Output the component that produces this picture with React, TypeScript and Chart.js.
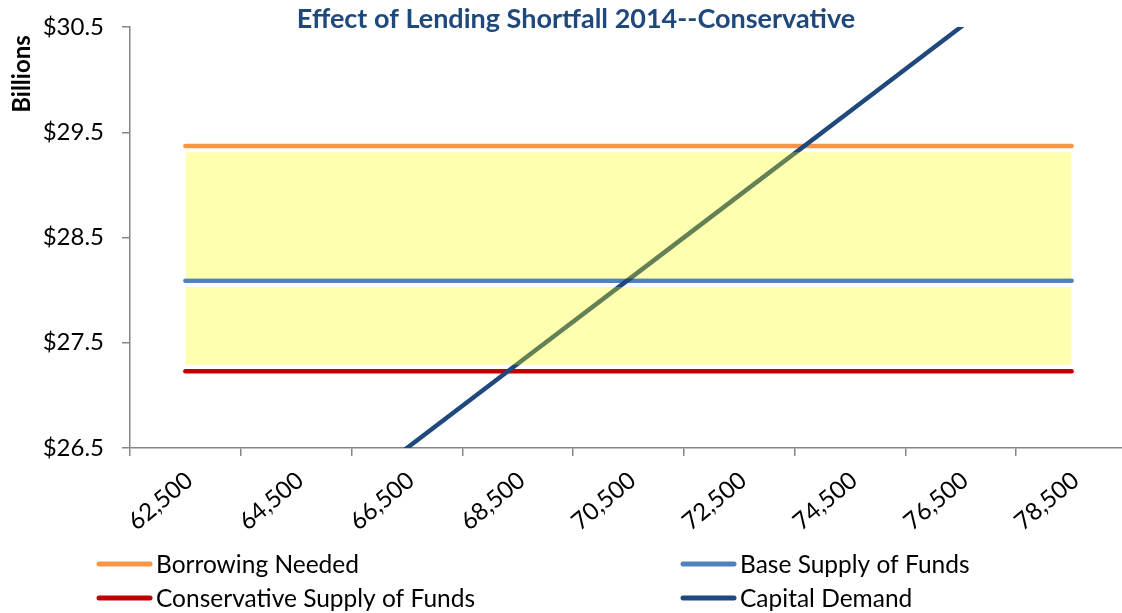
import React, { useEffect, useRef } from "react";
import { Chart, registerables } from "chart.js";

Chart.register(...registerables);

const TITLE = "Effect of Lending Shortfall 2014--Conservative";
const Y_TITLE = "Billions";

const categories = ["62,500", "64,500", "66,500", "68,500", "70,500", "72,500", "74,500", "76,500", "78,500"];
const borrowingNeeded = [29.37, 29.37, 29.37, 29.37, 29.37, 29.37, 29.37, 29.37, 29.37];
const baseSupply = [28.09, 28.09, 28.09, 28.09, 28.09, 28.09, 28.09, 28.09, 28.09];
const conservativeSupply = [27.23, 27.23, 27.23, 27.23, 27.23, 27.23, 27.23, 27.23, 27.23];
const capitalDemand = [24.9, 25.7, 26.5, 27.3, 28.1, 28.9, 29.7, 30.5, 31.3];
const bandUpperTop = [29.31, 29.31, 29.31, 29.31, 29.31, 29.31, 29.31, 29.31, 29.31];
const bandUpperBottom = [28.11, 28.11, 28.11, 28.11, 28.11, 28.11, 28.11, 28.11, 28.11];
const bandLowerTop = [28.03, 28.03, 28.03, 28.03, 28.03, 28.03, 28.03, 28.03, 28.03];
const bandLowerBottom = [27.29, 27.29, 27.29, 27.29, 27.29, 27.29, 27.29, 27.29, 27.29];
const Y_MIN = 26.5;
const Y_MAX = 30.5;
const Y_STEP = 1;

const FONT = "Lato, 'Open Sans', sans-serif";
const AXIS_GRAY = "#868686";
const BAND_FILL = "rgba(255,255,0,0.31)";

const legendItems = [
  { label: "Borrowing Needed", color: "#F79646", x: 97, y: 564 },
  { label: "Base Supply of Funds", color: "#4F81BD", x: 681, y: 564 },
  { label: "Conservative Supply of Funds", color: "#C00000", x: 97, y: 598 },
  { label: "Capital Demand", color: "#1F497D", x: 681, y: 598 },
];

const overlayPlugin = {
  id: "overlayText",
  afterDraw(chart: any) {
    const ctx = chart.ctx;
    ctx.save();
    ctx.fillStyle = "#1F497D";
    ctx.font = `bold 27px ${FONT}`;
    ctx.textAlign = "center";
    ctx.textBaseline = "middle";
    ctx.fillText(TITLE, 576, 19);

    ctx.save();
    ctx.translate(22, 74);
    ctx.rotate(-Math.PI / 2);
    ctx.fillStyle = "#000";
    ctx.font = `bold 24px ${FONT}`;
    ctx.fillText(Y_TITLE, 0, 0);
    ctx.restore();

    ctx.font = `24.5px ${FONT}`;
    ctx.textAlign = "left";
    ctx.textBaseline = "middle";
    legendItems.forEach((it) => {
      ctx.strokeStyle = it.color;
      ctx.lineWidth = 5;
      ctx.lineCap = "round";
      ctx.beginPath();
      ctx.moveTo(it.x + 2, it.y);
      ctx.lineTo(it.x + 53, it.y);
      ctx.stroke();
      ctx.fillStyle = "#000";
      ctx.fillText(it.label, it.x + 59, it.y + 1);
    });
    ctx.restore();
  },
};

export default function App() {
  const ref = useRef<HTMLCanvasElement | null>(null);

  useEffect(() => {
    if (!ref.current) return;
    const line = (label: string, data: number[], color: string, order: number) => ({
      label,
      data,
      borderColor: color,
      backgroundColor: color,
      borderWidth: 4.5,
      borderCapStyle: "round",
      pointRadius: 0,
      fill: false,
      tension: 0,
      order,
    });
    const chart = new Chart(ref.current, {
      type: "line",
      data: {
        labels: categories,
        datasets: [
          line("Borrowing Needed", borrowingNeeded, "#F79646", 3),
          line("Base Supply of Funds", baseSupply, "#4F81BD", 3),
          line("Conservative Supply of Funds", conservativeSupply, "#C00000", 3),
          { ...line("Capital Demand", capitalDemand, "#1F497D", 2), clip: 0 },
          {
            label: "bandUpper",
            data: bandUpperTop,
            borderWidth: 0,
            borderColor: "rgba(0,0,0,0)",
            backgroundColor: BAND_FILL,
            pointRadius: 0,
            fill: 5,
            order: 0,
          },
          {
            label: "bandUpperBottom",
            data: bandUpperBottom,
            borderWidth: 0,
            borderColor: "rgba(0,0,0,0)",
            pointRadius: 0,
            fill: false,
            order: 0,
          },
          {
            label: "bandLower",
            data: bandLowerTop,
            borderWidth: 0,
            borderColor: "rgba(0,0,0,0)",
            backgroundColor: BAND_FILL,
            pointRadius: 0,
            fill: 7,
            order: 0,
          },
          {
            label: "bandLowerBottom",
            data: bandLowerBottom,
            borderWidth: 0,
            borderColor: "rgba(0,0,0,0)",
            pointRadius: 0,
            fill: false,
            order: 0,
          },
        ],
      },
      options: {
        responsive: false,
        animation: false,
        events: [],
        layout: { padding: { top: 27, right: 13, left: 0, bottom: 0 } },
        plugins: {
          legend: { display: false },
          title: { display: false },
          tooltip: { enabled: false },
          filler: { propagate: false },
        },
        scales: {
          x: {
            type: "category",
            offset: true,
            grid: {
              offset: true,
              drawOnChartArea: false,
              drawTicks: true,
              tickLength: 8,
              color: AXIS_GRAY,
              lineWidth: 1.5,
            },
            border: { display: true, color: AXIS_GRAY, width: 1.5 },
            ticks: {
              autoSkip: false,
              maxRotation: 40,
              minRotation: 40,
              padding: 10,
              labelOffset: 4,
              color: "#000",
              font: { family: FONT, size: 24 },
            },
            afterFit: (s: any) => {
              s.height = 165;
              s.paddingLeft = 0;
              s.paddingRight = 0;
            },
          },
          y: {
            type: "linear",
            min: Y_MIN,
            max: Y_MAX,
            ticks: {
              stepSize: Y_STEP,
              padding: 18,
              color: "#000",
              font: { family: FONT, size: 24 },
              callback: (v: any) => "$" + Number(v).toFixed(1),
            },
            grid: {
              drawOnChartArea: false,
              drawTicks: true,
              tickLength: 8,
              color: AXIS_GRAY,
              lineWidth: 1.5,
            },
            border: { display: true, color: AXIS_GRAY, width: 1.5 },
            afterFit: (s: any) => {
              s.width = 130;
              s.paddingTop = 0;
              s.paddingBottom = 0;
            },
          },
        },
      },
      plugins: [overlayPlugin],
    } as any);
    return () => chart.destroy();
  }, []);

  return (
    <div
      style={{
        position: "fixed",
        left: 0,
        top: 0,
        width: 1122,
        height: 613,
        overflow: "hidden",
        background: "#fff",
      }}
    >
      <canvas ref={ref} width={1140} height={613} style={{ display: "block" }} />
    </div>
  );
}
